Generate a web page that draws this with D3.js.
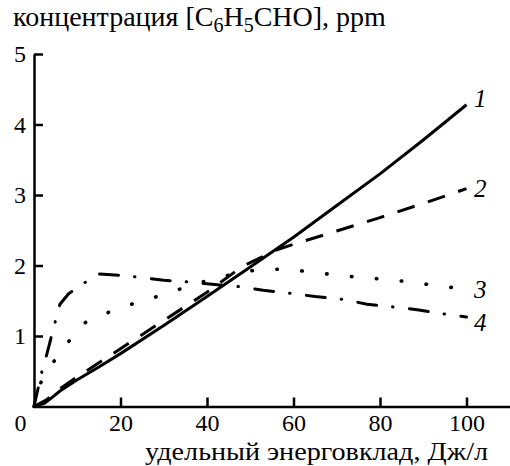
<!DOCTYPE html>
<html>
<head>
<meta charset="utf-8">
<script src="https://d3js.org/d3.v7.min.js"></script>
<style>
body { margin: 0; background: #fff; }
text { font-family: 'Liberation Serif', 'Times New Roman', serif; fill: #000; }
</style>
</head>
<body>
<svg id="chart" width="510" height="466"></svg>
<script>
// curve 1 (solid)
const energy1 = [0, 2.5, 4, 6, 10, 15, 20, 30, 40, 50, 60, 70, 80, 90, 100];
const conc1   = [0, 0.05, 0.12, 0.22, 0.38, 0.56, 0.75, 1.15, 1.56, 1.98, 2.4, 2.85, 3.3, 3.78, 4.28];
// curve 2 (dashed)
const energy2 = [0, 3, 6, 10, 15, 20, 30, 40, 48, 56, 60, 70, 80, 90, 100];
const conc2   = [0, 0.1, 0.25, 0.42, 0.62, 0.82, 1.22, 1.62, 1.98, 2.22, 2.3, 2.49, 2.68, 2.88, 3.09];
// curve 3 (dotted)
const energy3 = [0, 1, 4.5, 8, 11.5, 17, 22, 28, 33, 38, 43.5, 49, 55, 61, 66.5, 72, 78, 83.5, 89, 94.6, 100];
const conc3   = [0, 0.28, 0.63, 0.92, 1.18, 1.33, 1.44, 1.55, 1.65, 1.75, 1.84, 1.92, 1.95, 1.93, 1.89, 1.85, 1.82, 1.79, 1.75, 1.7, 1.67];
// curve 4 (dash-dot)
const energy4 = [0, 1.8, 3, 4.9, 6, 8, 11.8, 15, 20, 25, 30, 35, 40, 47.5, 53, 60, 65, 71.5, 77, 83.5, 89, 95, 100];
const conc4   = [0, 0.49, 0.75, 1.2, 1.45, 1.6, 1.76, 1.88, 1.86, 1.83, 1.79, 1.77, 1.74, 1.7, 1.65, 1.6, 1.56, 1.52, 1.45, 1.41, 1.37, 1.31, 1.27];

const curveLabels = ['1', '2', '3', '4'];
const xTicks = [0, 20, 40, 60, 80, 100];
const yTicks = [1, 2, 3, 4, 5];

const svg = d3.select('#chart');
const xs = d3.scaleLinear().domain([0, 110]).range([34, 509.75]);
const ys = d3.scaleLinear().domain([0, 5]).range([406.5, 54]);

const series = [
  {x: energy1, y: conc1, dash: null, cap: 'butt'},
  {x: energy2, y: conc2, dash: '18,14', cap: 'butt'},
  {x: energy3, y: conc3, dash: '0.5,24.5', cap: 'round'},
  {x: energy4, y: conc4, dash: '19,16,0.5,16.5', cap: 'round'}
];

const line = d3.line().x(d => xs(d[0])).y(d => ys(d[1]));

svg.append('g').selectAll('path')
  .data(series)
  .join('path')
    .attr('d', s => line(s.x.map((v, i) => [v, s.y[i]])))
    .attr('fill', 'none')
    .attr('stroke', '#000')
    .attr('stroke-width', (s, i) => i == 2 ? 3.6 : 3)
    .attr('stroke-linecap', s => s.cap)
    .attr('stroke-linejoin', 'round')
    .attr('stroke-dasharray', s => s.dash);

// axes
const xAxis = svg.append('g')
  .attr('transform', `translate(0,${ys(0)})`)
  .call(d3.axisBottom(xs).tickValues(xTicks).tickFormat(d3.format('d'))
    .tickSizeInner(-9).tickSizeOuter(0).tickPadding(7));
const yAxis = svg.append('g')
  .attr('transform', `translate(${xs(0)},0)`)
  .call(d3.axisLeft(ys).tickValues(yTicks).tickFormat(d3.format('d'))
    .tickSizeInner(-9).tickSizeOuter(0).tickPadding(8));

[xAxis, yAxis].forEach(a => {
  a.select('.domain').attr('stroke-width', 2.5);
  a.selectAll('.tick line').attr('stroke-width', 2.5);
  a.selectAll('text').attr('font-size', 24);
});
// origin label sits left of the corner
xAxis.selectAll('.tick').filter(d => d == 0).select('line').remove();
xAxis.selectAll('.tick').filter(d => d == 0).select('text').attr('x', -14);

// curve numbers
svg.append('g').selectAll('text')
  .data(series)
  .join('text')
    .attr('x', 474)
    .attr('y', (s, i) => ys(s.y[s.y.length - 1]) + [2, 8, 9, 14][i])
    .attr('font-size', 25)
    .attr('font-style', 'italic')
    .text((s, i) => curveLabels[i]);

// titles
const title = svg.append('text').attr('x', 13).attr('y', 26).attr('font-size', 28);
title.append('tspan').text('концентрация [C');
title.append('tspan').attr('dy', 6).attr('font-size', 20).text('6');
title.append('tspan').attr('dy', -6).text('H');
title.append('tspan').attr('dy', 6).attr('font-size', 20).text('5');
title.append('tspan').attr('dy', -6).text('CHO], ppm');

svg.append('text')
  .attr('x', 145).attr('y', 460)
  .attr('font-size', 26)
  .attr('textLength', 343)
  .attr('lengthAdjust', 'spacingAndGlyphs')
  .text('удельный энерговклад, Дж/л');
</script>
</body>
</html>
